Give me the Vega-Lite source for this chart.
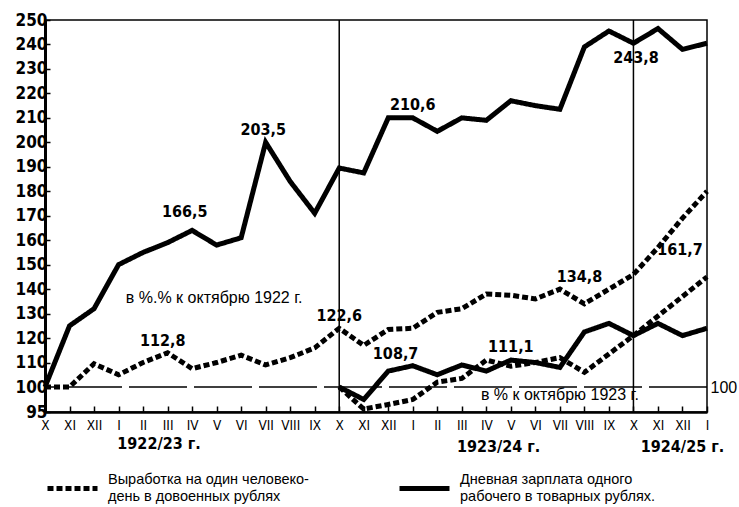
{
  "$schema": "https://vega.github.io/schema/vega-lite/v6.json",
  "width": 662,
  "height": 392,
  "autosize": {"type": "none"},
  "padding": {"left": 45, "top": 20, "right": 32, "bottom": 95},
  "background": "white",
  "config": {
    "view": {"stroke": "black", "strokeWidth": 1.5},
    "font": "Liberation Sans",
    "axis": {"grid": false, "domainColor": "black", "tickColor": "black", "labelColor": "black", "title": null, "labelOverlap": false}
  },
  "datasets": {
    "series": [
      {"t":0,"kind":"Дневная зарплата одного|рабочего в товарных рублях.","base":"w22","v":100},
      {"t":1,"kind":"Дневная зарплата одного|рабочего в товарных рублях.","base":"w22","v":125},
      {"t":2,"kind":"Дневная зарплата одного|рабочего в товарных рублях.","base":"w22","v":132},
      {"t":3,"kind":"Дневная зарплата одного|рабочего в товарных рублях.","base":"w22","v":150},
      {"t":4,"kind":"Дневная зарплата одного|рабочего в товарных рублях.","base":"w22","v":155},
      {"t":5,"kind":"Дневная зарплата одного|рабочего в товарных рублях.","base":"w22","v":159},
      {"t":6,"kind":"Дневная зарплата одного|рабочего в товарных рублях.","base":"w22","v":164},
      {"t":7,"kind":"Дневная зарплата одного|рабочего в товарных рублях.","base":"w22","v":158},
      {"t":8,"kind":"Дневная зарплата одного|рабочего в товарных рублях.","base":"w22","v":161},
      {"t":9,"kind":"Дневная зарплата одного|рабочего в товарных рублях.","base":"w22","v":200},
      {"t":10,"kind":"Дневная зарплата одного|рабочего в товарных рублях.","base":"w22","v":184},
      {"t":11,"kind":"Дневная зарплата одного|рабочего в товарных рублях.","base":"w22","v":171},
      {"t":12,"kind":"Дневная зарплата одного|рабочего в товарных рублях.","base":"w22","v":189.5},
      {"t":13,"kind":"Дневная зарплата одного|рабочего в товарных рублях.","base":"w22","v":187.5},
      {"t":14,"kind":"Дневная зарплата одного|рабочего в товарных рублях.","base":"w22","v":210},
      {"t":15,"kind":"Дневная зарплата одного|рабочего в товарных рублях.","base":"w22","v":210},
      {"t":16,"kind":"Дневная зарплата одного|рабочего в товарных рублях.","base":"w22","v":204.5},
      {"t":17,"kind":"Дневная зарплата одного|рабочего в товарных рублях.","base":"w22","v":210},
      {"t":18,"kind":"Дневная зарплата одного|рабочего в товарных рублях.","base":"w22","v":209},
      {"t":19,"kind":"Дневная зарплата одного|рабочего в товарных рублях.","base":"w22","v":217},
      {"t":20,"kind":"Дневная зарплата одного|рабочего в товарных рублях.","base":"w22","v":215},
      {"t":21,"kind":"Дневная зарплата одного|рабочего в товарных рублях.","base":"w22","v":213.5},
      {"t":22,"kind":"Дневная зарплата одного|рабочего в товарных рублях.","base":"w22","v":239},
      {"t":23,"kind":"Дневная зарплата одного|рабочего в товарных рублях.","base":"w22","v":245.5},
      {"t":24,"kind":"Дневная зарплата одного|рабочего в товарных рублях.","base":"w22","v":240.5},
      {"t":25,"kind":"Дневная зарплата одного|рабочего в товарных рублях.","base":"w22","v":246.5},
      {"t":26,"kind":"Дневная зарплата одного|рабочего в товарных рублях.","base":"w22","v":238},
      {"t":27,"kind":"Дневная зарплата одного|рабочего в товарных рублях.","base":"w22","v":240.5},
      {"t":0,"kind":"Выработка на один человеко-|день в довоенных рублях","base":"p22","v":100},
      {"t":1,"kind":"Выработка на один человеко-|день в довоенных рублях","base":"p22","v":100},
      {"t":2,"kind":"Выработка на один человеко-|день в довоенных рублях","base":"p22","v":109.5},
      {"t":3,"kind":"Выработка на один человеко-|день в довоенных рублях","base":"p22","v":105},
      {"t":4,"kind":"Выработка на один человеко-|день в довоенных рублях","base":"p22","v":110},
      {"t":5,"kind":"Выработка на один человеко-|день в довоенных рублях","base":"p22","v":114},
      {"t":6,"kind":"Выработка на один человеко-|день в довоенных рублях","base":"p22","v":107.5},
      {"t":7,"kind":"Выработка на один человеко-|день в довоенных рублях","base":"p22","v":110},
      {"t":8,"kind":"Выработка на один человеко-|день в довоенных рублях","base":"p22","v":113},
      {"t":9,"kind":"Выработка на один человеко-|день в довоенных рублях","base":"p22","v":109},
      {"t":10,"kind":"Выработка на один человеко-|день в довоенных рублях","base":"p22","v":112},
      {"t":11,"kind":"Выработка на один человеко-|день в довоенных рублях","base":"p22","v":116},
      {"t":12,"kind":"Выработка на один человеко-|день в довоенных рублях","base":"p22","v":124},
      {"t":13,"kind":"Выработка на один человеко-|день в довоенных рублях","base":"p22","v":117},
      {"t":14,"kind":"Выработка на один человеко-|день в довоенных рублях","base":"p22","v":123.5},
      {"t":15,"kind":"Выработка на один человеко-|день в довоенных рублях","base":"p22","v":124},
      {"t":16,"kind":"Выработка на один человеко-|день в довоенных рублях","base":"p22","v":130.5},
      {"t":17,"kind":"Выработка на один человеко-|день в довоенных рублях","base":"p22","v":132},
      {"t":18,"kind":"Выработка на один человеко-|день в довоенных рублях","base":"p22","v":138},
      {"t":19,"kind":"Выработка на один человеко-|день в довоенных рублях","base":"p22","v":137.5},
      {"t":20,"kind":"Выработка на один человеко-|день в довоенных рублях","base":"p22","v":136},
      {"t":21,"kind":"Выработка на один человеко-|день в довоенных рублях","base":"p22","v":140},
      {"t":22,"kind":"Выработка на один человеко-|день в довоенных рублях","base":"p22","v":134},
      {"t":23,"kind":"Выработка на один человеко-|день в довоенных рублях","base":"p22","v":140},
      {"t":24,"kind":"Выработка на один человеко-|день в довоенных рублях","base":"p22","v":146},
      {"t":25,"kind":"Выработка на один человеко-|день в довоенных рублях","base":"p22","v":157},
      {"t":26,"kind":"Выработка на один человеко-|день в довоенных рублях","base":"p22","v":169},
      {"t":27,"kind":"Выработка на один человеко-|день в довоенных рублях","base":"p22","v":180},
      {"t":12,"kind":"Дневная зарплата одного|рабочего в товарных рублях.","base":"w23","v":100},
      {"t":13,"kind":"Дневная зарплата одного|рабочего в товарных рублях.","base":"w23","v":97.5},
      {"t":14,"kind":"Дневная зарплата одного|рабочего в товарных рублях.","base":"w23","v":106.5},
      {"t":15,"kind":"Дневная зарплата одного|рабочего в товарных рублях.","base":"w23","v":108.7},
      {"t":16,"kind":"Дневная зарплата одного|рабочего в товарных рублях.","base":"w23","v":105},
      {"t":17,"kind":"Дневная зарплата одного|рабочего в товарных рублях.","base":"w23","v":109},
      {"t":18,"kind":"Дневная зарплата одного|рабочего в товарных рублях.","base":"w23","v":106.5},
      {"t":19,"kind":"Дневная зарплата одного|рабочего в товарных рублях.","base":"w23","v":111},
      {"t":20,"kind":"Дневная зарплата одного|рабочего в товарных рублях.","base":"w23","v":110},
      {"t":21,"kind":"Дневная зарплата одного|рабочего в товарных рублях.","base":"w23","v":108},
      {"t":22,"kind":"Дневная зарплата одного|рабочего в товарных рублях.","base":"w23","v":122.5},
      {"t":23,"kind":"Дневная зарплата одного|рабочего в товарных рублях.","base":"w23","v":126},
      {"t":24,"kind":"Дневная зарплата одного|рабочего в товарных рублях.","base":"w23","v":121},
      {"t":25,"kind":"Дневная зарплата одного|рабочего в товарных рублях.","base":"w23","v":126},
      {"t":26,"kind":"Дневная зарплата одного|рабочего в товарных рублях.","base":"w23","v":121},
      {"t":27,"kind":"Дневная зарплата одного|рабочего в товарных рублях.","base":"w23","v":124},
      {"t":12,"kind":"Выработка на один человеко-|день в довоенных рублях","base":"p23","v":100},
      {"t":13,"kind":"Выработка на один человеко-|день в довоенных рублях","base":"p23","v":95.6},
      {"t":14,"kind":"Выработка на один человеко-|день в довоенных рублях","base":"p23","v":96.5},
      {"t":15,"kind":"Выработка на один человеко-|день в довоенных рублях","base":"p23","v":97.5},
      {"t":16,"kind":"Выработка на один человеко-|день в довоенных рублях","base":"p23","v":102},
      {"t":17,"kind":"Выработка на один человеко-|день в довоенных рублях","base":"p23","v":103.5},
      {"t":18,"kind":"Выработка на один человеко-|день в довоенных рублях","base":"p23","v":111},
      {"t":19,"kind":"Выработка на один человеко-|день в довоенных рублях","base":"p23","v":108.5},
      {"t":20,"kind":"Выработка на один человеко-|день в довоенных рублях","base":"p23","v":110},
      {"t":21,"kind":"Выработка на один человеко-|день в довоенных рублях","base":"p23","v":112},
      {"t":22,"kind":"Выработка на один человеко-|день в довоенных рублях","base":"p23","v":106},
      {"t":23,"kind":"Выработка на один человеко-|день в довоенных рублях","base":"p23","v":113.5},
      {"t":24,"kind":"Выработка на один человеко-|день в довоенных рублях","base":"p23","v":121},
      {"t":25,"kind":"Выработка на один человеко-|день в довоенных рублях","base":"p23","v":129},
      {"t":26,"kind":"Выработка на один человеко-|день в довоенных рублях","base":"p23","v":137},
      {"t":27,"kind":"Выработка на один человеко-|день в довоенных рублях","base":"p23","v":145}
    ],
    "numbers": [
      {"t":5.7,"v":171.6,"label":"166,5"},
      {"t":8.9,"v":205,"label":"203,5"},
      {"t":15.0,"v":215.3,"label":"210,6"},
      {"t":24.1,"v":234.5,"label":"243,8"},
      {"t":4.8,"v":118.6,"label":"112,8"},
      {"t":12.0,"v":129.2,"label":"122,6"},
      {"t":14.3,"v":113.3,"label":"108,7"},
      {"t":19.0,"v":116.5,"label":"111,1"},
      {"t":21.8,"v":145.1,"label":"134,8"},
      {"t":25.9,"v":156.1,"label":"161,7"}
    ],
    "notes": [
      {"t":6.9,"v":136.5,"label":"в %.% к октябрю 1922 г."},
      {"t":21.0,"v":98.4,"label":"в % к октябрю 1923 г."}
    ],
    "years": [
      {"t":4.65,"v":88.6,"label":"1922/23 г."},
      {"t":18.5,"v":88.0,"label":"1923/24 г."},
      {"t":26.0,"v":88.0,"label":"1924/25 г."}
    ],
    "base100": [{"v":100}],
    "yearStarts": [{"t":12},{"t":24}]
  },
  "layer": [
    {
      "data": {"name": "yearStarts"},
      "mark": {"type": "rule", "color": "black", "strokeWidth": 1.5},
      "encoding": {
        "x": {"field": "t", "type": "quantitative",
          "scale": {"domain": [0, 27], "nice": false, "zero": false}}
      }
    },
    {
      "data": {"name": "base100"},
      "mark": {"type": "rule", "color": "black", "strokeWidth": 1.5, "strokeDash": [58, 7]},
      "encoding": {
        "y": {"field": "v", "type": "quantitative",
          "scale": {"domain": [95, 100, 250], "range": [392, 367, 0], "nice": false, "zero": false},
          "axis": {"orient": "right", "values": [100], "ticks": false, "domain": false,
            "labelFontSize": 16, "labelPadding": 3}}
      }
    },
    {
      "data": {"name": "series"},
      "mark": {"type": "line", "color": "black", "strokeWidth": 5, "strokeJoin": "miter"},
      "encoding": {
        "x": {"field": "t", "type": "quantitative", "scale": {"domain": [0, 27], "nice": false, "zero": false},
          "axis": {"values": [0,1,2,3,4,5,6,7,8,9,10,11,12,13,14,15,16,17,18,19,20,21,22,23,24,25,26,27],
            "tickCount": 30,
            "labelExpr": "['X','XI','XII','I','II','III','IV','V','VI','VII','VIII','IX'][datum.value % 12]",
            "labelFont": "DejaVu Sans Condensed", "labelFontSize": 13.5, "labelFlush": false, "tickSize": -6, "tickWidth": 1.5,
            "domainWidth": 2.5, "labelPadding": 12, "labelOverlap": false}},
        "y": {"field": "v", "type": "quantitative",
          "scale": {"domain": [95, 100, 250], "range": [392, 367, 0], "nice": false, "zero": false},
          "axis": {"orient": "left", "values": [95,100,110,120,130,140,150,160,170,180,190,200,210,220,230,240,250],
            "tickCount": 20,
            "labelFontSize": 17, "labelFont": "DejaVu Sans Condensed", "labelFontWeight": "bold",
            "tickSize": -5, "tickWidth": 1.5, "domainWidth": 3, "labelPadding": 3, "labelOverlap": false}},
        "detail": {"field": "base"},
        "order": {"field": "t"},
        "strokeDash": {"field": "kind", "type": "nominal",
          "scale": {"domain": ["Выработка на один человеко-|день в довоенных рублях", "Дневная зарплата одного|рабочего в товарных рублях."],
            "range": [[6, 3], [1, 0]]},
          "legend": {"orient": "none", "legendX": 0, "legendY": 441, "direction": "horizontal", "title": null,
            "symbolType": "stroke", "symbolSize": 2500, "symbolStrokeWidth": 5, "symbolStrokeColor": "black",
            "labelFontSize": 14.5, "labelExpr": "split(datum.label, '|')", "labelLimit": 400,
            "columnPadding": 80, "labelOffset": 8, "labelColor": "black",
            "encode": {"labels": {"update": {"dy": {"value": -9}, "lineHeight": {"value": 17}}}}}}
      }
    },
    {
      "data": {"name": "numbers"},
      "mark": {"type": "text", "font": "DejaVu Sans Condensed", "fontWeight": "bold", "fontSize": 16, "color": "black"},
      "encoding": {
        "x": {"field": "t", "type": "quantitative", "scale": {"domain": [0, 27], "nice": false, "zero": false}},
        "y": {"field": "v", "type": "quantitative", "scale": {"domain": [95, 100, 250], "range": [392, 367, 0], "nice": false, "zero": false}, "axis": null},
        "text": {"field": "label"}
      }
    },
    {
      "data": {"name": "notes"},
      "mark": {"type": "text", "fontSize": 16, "color": "black"},
      "encoding": {
        "x": {"field": "t", "type": "quantitative", "scale": {"domain": [0, 27], "nice": false, "zero": false}},
        "y": {"field": "v", "type": "quantitative", "scale": {"domain": [95, 100, 250], "range": [392, 367, 0], "nice": false, "zero": false}, "axis": null},
        "text": {"field": "label"}
      }
    },
    {
      "data": {"name": "years"},
      "mark": {"type": "text", "font": "DejaVu Sans Condensed", "fontWeight": "bold", "fontSize": 16, "color": "black"},
      "encoding": {
        "x": {"field": "t", "type": "quantitative", "scale": {"domain": [0, 27], "nice": false, "zero": false}},
        "y": {"field": "v", "type": "quantitative", "scale": {"domain": [95, 100, 250], "range": [392, 367, 0], "nice": false, "zero": false}, "axis": null},
        "text": {"field": "label"}
      }
    }
  ],
  "resolve": {"axis": {"y": "independent"}}
}
